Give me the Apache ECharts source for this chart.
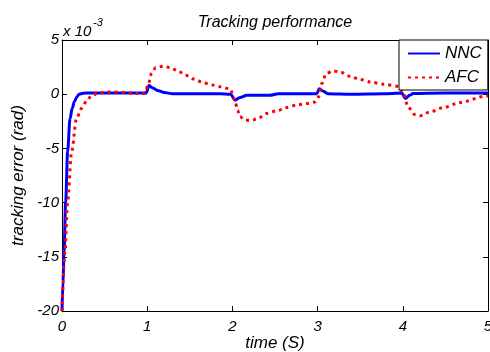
<!DOCTYPE html>
<html>
<head>
<meta charset="utf-8">
<script src="https://cdn.jsdelivr.net/npm/echarts@6/dist/echarts.min.js"></script>
<style>
  html, body { margin: 0; padding: 0; background: #fff; }
  #chart { width: 490px; height: 352px; }
</style>
</head>
<body>
<div id="chart"></div>
<script>
// Tracking error, in units of 1e-3 rad, against time in seconds.
const nncTime = [0, 0.012, 0.024, 0.043, 0.066, 0.094, 0.12, 0.145, 0.175, 0.2, 0.27, 0.5, 0.8, 0.99,
  1.02, 1.06, 1.12, 1.2, 1.3, 1.6, 1.85, 1.98, 2.03, 2.09, 2.17, 2.44, 2.54, 2.8, 2.99,
  3.02, 3.06, 3.12, 3.4, 3.77, 3.99, 4.03, 4.08, 4.12, 4.5, 5.0];
const nncError = [-20, -17.2, -14.5, -9.9, -5.3, -2.25, -1.3, -0.7, -0.25, 0.0, 0.12, 0.12, 0.12, 0.12,
  0.8, 0.6, 0.35, 0.15, 0.05, 0.05, 0.05, 0.0, -0.55, -0.3, -0.1, -0.1, 0.05, 0.05, 0.05,
  0.5, 0.3, 0.05, 0.0, 0.05, 0.1, -0.4, -0.1, 0.06, 0.1, 0.1];

const afcTime = [0, 0.035, 0.066, 0.113, 0.17, 0.23, 0.29, 0.35, 0.43, 0.56, 0.72, 0.88, 0.97,
  1.01, 1.05, 1.1, 1.19, 1.27, 1.37, 1.45, 1.55, 1.66, 1.76, 1.86, 1.97,
  2.03, 2.06, 2.09, 2.15, 2.23, 2.3, 2.4, 2.52, 2.64, 2.75, 2.87, 2.97,
  3.01, 3.05, 3.1, 3.18, 3.26, 3.38, 3.5, 3.62, 3.77, 3.95,
  4.01, 4.06, 4.14, 4.2, 4.32, 4.48, 4.67, 4.97, 5.0];
const afcError = [-20, -14.5, -9.9, -5.3, -2.25, -1.3, -0.6, -0.1, 0.12, 0.21, 0.15, 0.06, 0.06,
  0.83, 1.9, 2.46, 2.58, 2.46, 2.1, 1.75, 1.4, 1.05, 0.85, 0.68, 0.5,
  -0.55, -1.48, -2.09, -2.4, -2.4, -2.24, -1.78, -1.54, -1.23, -1.01, -0.86, -0.71,
  -0.25, 0.99, 1.9, 2.15, 2.06, 1.66, 1.36, 1.13, 0.92, 0.74,
  0.06, -1.17, -1.88, -2.0, -1.63, -1.23, -0.77, -0.18, -0.15];

const xTicks = { min: 0, max: 5, step: 1 };
const yTicks = { min: -20, max: 5, step: 5 };

const font = 'Liberation Sans, Arial, sans-serif';
const pairs = (xs, ys) => xs.map((x, i) => [x, ys[i]]);

const tickStyle = { inside: true, length: 5, lineStyle: { color: '#000', width: 1 } };
const lineAxis = { show: true, onZero: false, lineStyle: { color: '#000', width: 1 } };
const labelStyle = { color: '#000', fontFamily: font, fontStyle: 'italic', fontSize: 15 };

const chart = echarts.init(document.getElementById('chart'), null, { renderer: 'canvas' });
chart.setOption({
  animation: false,
  backgroundColor: '#fff',
  grid: { left: 62, right: 2, top: 40, bottom: 41, containLabel: false, outerBoundsMode: 'none' },
  graphic: [
    { type: 'text', x: 275, y: 15, style: { text: 'Tracking performance', fill: '#000',
      font: 'italic 16px ' + font, textAlign: 'center' } },
    { type: 'text', x: 63, y: 24, style: { text: 'x 10', fill: '#000',
      font: 'italic 15px ' + font } },
    { type: 'text', x: 93, y: 17, style: { text: '-3', fill: '#000',
      font: 'italic 11px ' + font } }
  ],
  legend: {
    orient: 'vertical',
    left: 399, top: 40,
    padding: [5, 6, 4, 8],
    itemGap: 7,
    itemWidth: 32, itemHeight: 14,
    itemStyle: { opacity: 0 },
    borderColor: '#000', borderWidth: 1,
    backgroundColor: '#fff',
    textStyle: { color: '#000', fontFamily: font, fontStyle: 'italic', fontSize: 17 },
    data: ['NNC', 'AFC']
  },
  xAxis: [
    {
      type: 'value', position: 'bottom', min: xTicks.min, max: xTicks.max, interval: xTicks.step,
      axisLine: lineAxis, axisTick: tickStyle, splitLine: { show: false },
      axisLabel: Object.assign({ margin: 8 }, labelStyle),
      name: 'time (S)', nameLocation: 'middle', nameGap: 24, nameMoveOverlap: false,
      nameTextStyle: { color: '#000', fontFamily: font, fontStyle: 'italic', fontSize: 17 }
    },
    {
      type: 'value', position: 'top', min: xTicks.min, max: xTicks.max, interval: xTicks.step,
      axisLine: lineAxis, axisTick: tickStyle, splitLine: { show: false },
      axisLabel: { show: false }
    }
  ],
  yAxis: [
    {
      type: 'value', position: 'left', min: yTicks.min, max: yTicks.max, interval: yTicks.step,
      axisLine: lineAxis, axisTick: tickStyle, splitLine: { show: false },
      axisLabel: Object.assign({ margin: 3 }, labelStyle),
      name: 'tracking error (rad)', nameLocation: 'middle', nameGap: 30,
      nameTextStyle: { color: '#000', fontFamily: font, fontStyle: 'italic', fontSize: 17 }
    },
    {
      type: 'value', position: 'right', min: yTicks.min, max: yTicks.max, interval: yTicks.step,
      axisLine: lineAxis, axisTick: tickStyle, splitLine: { show: false },
      axisLabel: { show: false }
    }
  ],
  series: [
    {
      name: 'NNC', type: 'line', xAxisIndex: 0, yAxisIndex: 0,
      data: pairs(nncTime, nncError),
      showSymbol: false, symbol: 'none',
      smooth: 0.3, smoothMonotone: 'x',
      lineStyle: { color: '#0000ff', width: 3 },
      itemStyle: { color: '#0000ff' }
    },
    {
      name: 'AFC', type: 'line', xAxisIndex: 0, yAxisIndex: 0,
      data: pairs(afcTime, afcError),
      showSymbol: false, symbol: 'none',
      smooth: 0.3, smoothMonotone: 'x',
      lineStyle: { color: '#ff0000', width: 3, type: [3, 4], cap: 'butt' },
      itemStyle: { color: '#ff0000' }
    }
  ]
});
</script>
</body>
</html>
